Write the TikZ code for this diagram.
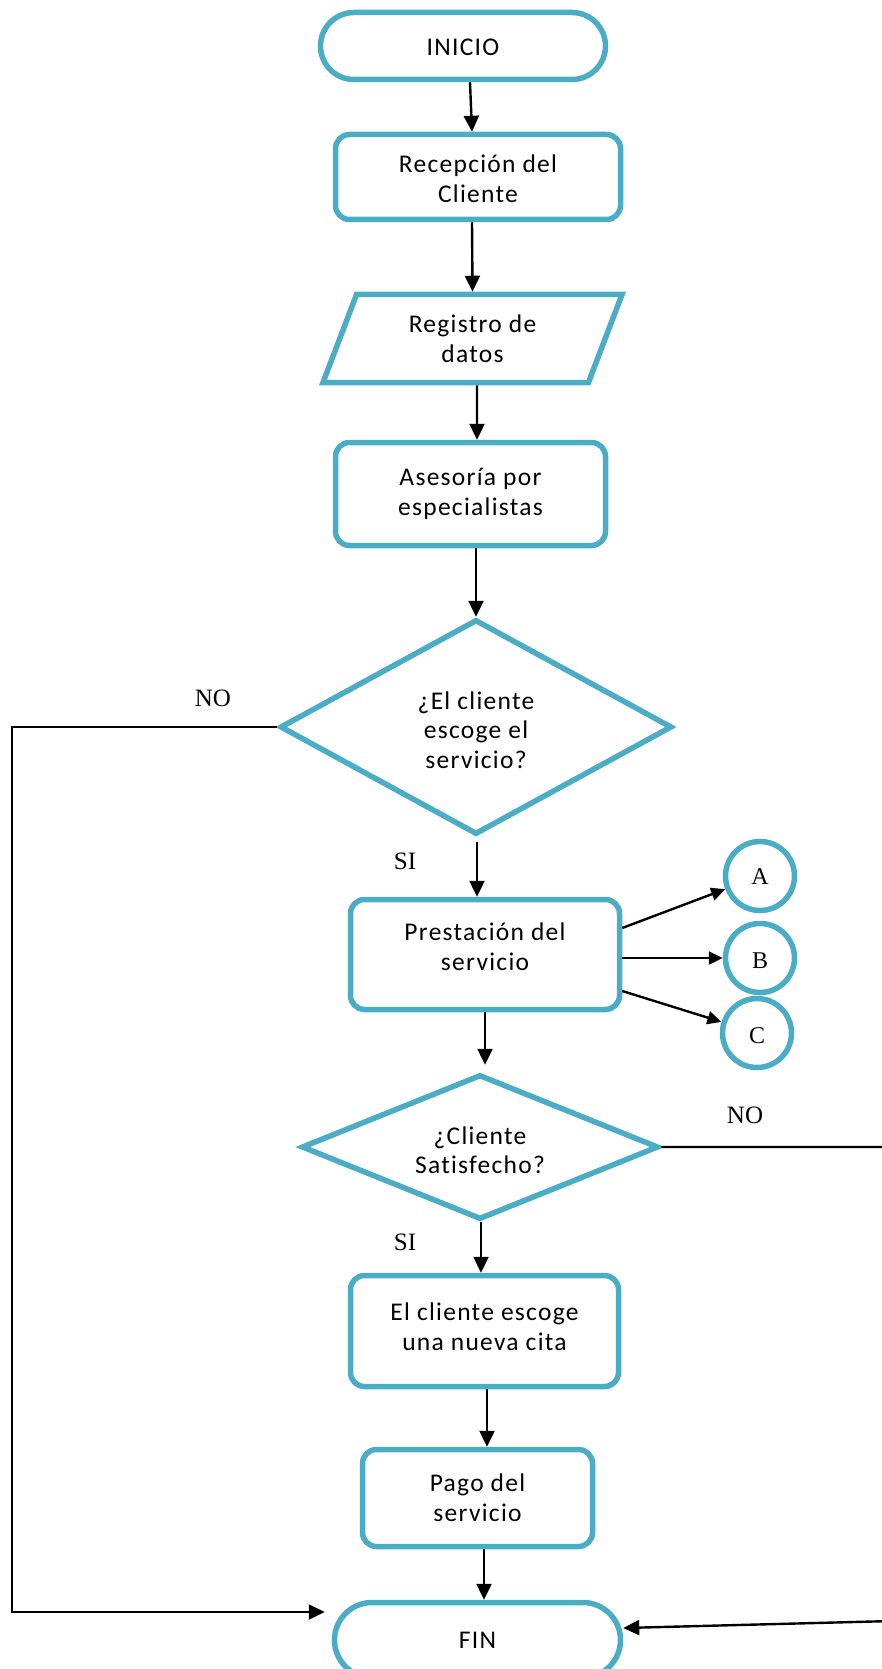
\documentclass[tikz,border=0pt]{standalone}
\usepackage{fontspec}
\setmainfont{Carlito}[LetterSpace=5, Ligatures=NoCommon]
\newfontfamily\labelfont{Liberation Serif}
\usetikzlibrary{arrows.meta,shapes.geometric,shapes.misc}

\definecolor{flowblue}{RGB}{75,172,198}
% lower the lines of a box text by #1 without changing the box size
\newcommand\lowtxt[2]{\raisebox{-#1}[\height][\depth]{\begin{tabular}{@{}c@{}}#2\end{tabular}}}

\begin{document}
\begin{tikzpicture}[x=1pt, y=-1pt,
  proc/.style={draw=flowblue, line width=5.5pt, rounded corners=14pt, align=center, inner sep=0pt, font=\fontsize{25.5}{30}\selectfont},
  term/.style={draw=flowblue, line width=5.5pt, rounded rectangle, align=center, inner sep=0pt, font=\fontsize{25.5}{30}\selectfont},
  io/.style={draw=flowblue, line width=5.5pt, trapezium, trapezium left angle=55, trapezium right angle=125, trapezium stretches body, align=center, inner sep=0pt, font=\fontsize{25.5}{30}\selectfont},
  dec/.style={draw=flowblue, line width=5.5pt, diamond, align=center, inner sep=0pt, font=\fontsize{25.5}{29.5}\selectfont},
  conn/.style={draw=flowblue, line width=5.5pt, circle, minimum size=69pt, inner sep=0pt, font=\labelfont\fontsize{24}{24}\selectfont},
  lbl/.style={font=\labelfont\fontsize{25}{25}\selectfont},
  arr/.style={-{Triangle[length=16pt,width=15pt]}, line width=2.4pt},
  arrsmall/.style={-{Triangle[length=14pt,width=13pt]}, line width=2.4pt}
]
\useasboundingbox (0,0) rectangle (881,1669);

% main column
\node[term, minimum width=285, minimum height=67] (inicio) at (463,46) {\lowtxt{4pt}{INICIO}};
\node[proc, minimum width=285, minimum height=85] (recep) at (478,177) {\lowtxt{5pt}{Recepción del\\Cliente}};
\node[io, minimum width=299, minimum height=88] (reg) at (472.5,338.5) {Registro de\\datos};
\node[proc, minimum width=270, minimum height=103] (ases) at (470.5,494) {Asesoría por\\especialistas};
\node[dec, minimum width=392, minimum height=215, aspect=1.8] (dec1) at (476,727) {\lowtxt{6pt}{¿El cliente\\escoge el\\servicio?}};
\node[proc, minimum width=269, minimum height=110] (prest) at (485,954.5) {\lowtxt{-5pt}{Prestación del\\servicio}};
\node[dec, minimum width=357, minimum height=145, aspect=2.46] (dec2) at (480,1147) {\lowtxt{6pt}{¿Cliente\\Satisfecho?}};
\node[proc, minimum width=268, minimum height=111] (cita) at (484.5,1331) {\lowtxt{-2pt}{El cliente escoge\\una nueva cita}};
\node[proc, minimum width=230, minimum height=97] (pago) at (477.5,1498) {Pago del\\servicio};
\node[term, minimum width=286, minimum height=75] (fin) at (477.5,1640) {FIN};

% connectors A, B, C
\node[conn] (ca) at (760,876) {\lowtxt{4pt}{A}};
\node[conn] (cb) at (760,958) {\lowtxt{6pt}{B}};
\node[conn] (cc) at (757,1033) {\lowtxt{6pt}{C}};

% branch labels
\node[lbl] (no1) at (213,698) {NO};
\node[lbl] (si1) at (405,861) {SI};
\node[lbl] (no2) at (745,1115) {NO};
\node[lbl] (si2) at (405,1242) {SI};

\draw[arr] ([xshift=7pt]inicio.south) -- ([xshift=-6pt]recep.north);
\draw[arr] ([xshift=-6pt]recep.south) -- (reg.north);
\draw[arr] ([xshift=4.5pt]reg.south) -- ([xshift=6.5pt]ases.north);
\draw[arr] ([xshift=5.5pt]ases.south) -- (dec1.north);
\draw[arr] ([xshift=1pt,yshift=-5pt]dec1.south) -- ([xshift=-8pt]prest.north);
\draw[arr] (prest.south) -- ([xshift=5pt,yshift=7pt]dec2.north);
\draw[arr] ([xshift=1pt]dec2.south) -- ([xshift=-3.5pt]cita.north);
\draw[arr] ([xshift=2.5pt]cita.south) -- ([xshift=9.5pt]pago.north);
\draw[arr] ([xshift=6.5pt]pago.south) -- ([xshift=6.5pt]fin.north);

\draw[arrsmall] ([yshift=26.5pt]prest.east) -- (ca);
\draw[arrsmall] ([yshift=-3.5pt]prest.east) -- (cb);
\draw[arrsmall] ([yshift=-36.5pt]prest.east) -- (cc);

% NO branches to FIN
\draw[arr] (dec1.west) -- ++(-265,0) |- ([xshift=-7pt,yshift=28pt]fin.west);
\draw[arr] (dec2.east) -- ++(250,0) -- ++(0,473.5) -- ([yshift=12pt]fin.east);
\end{tikzpicture}
\end{document}
